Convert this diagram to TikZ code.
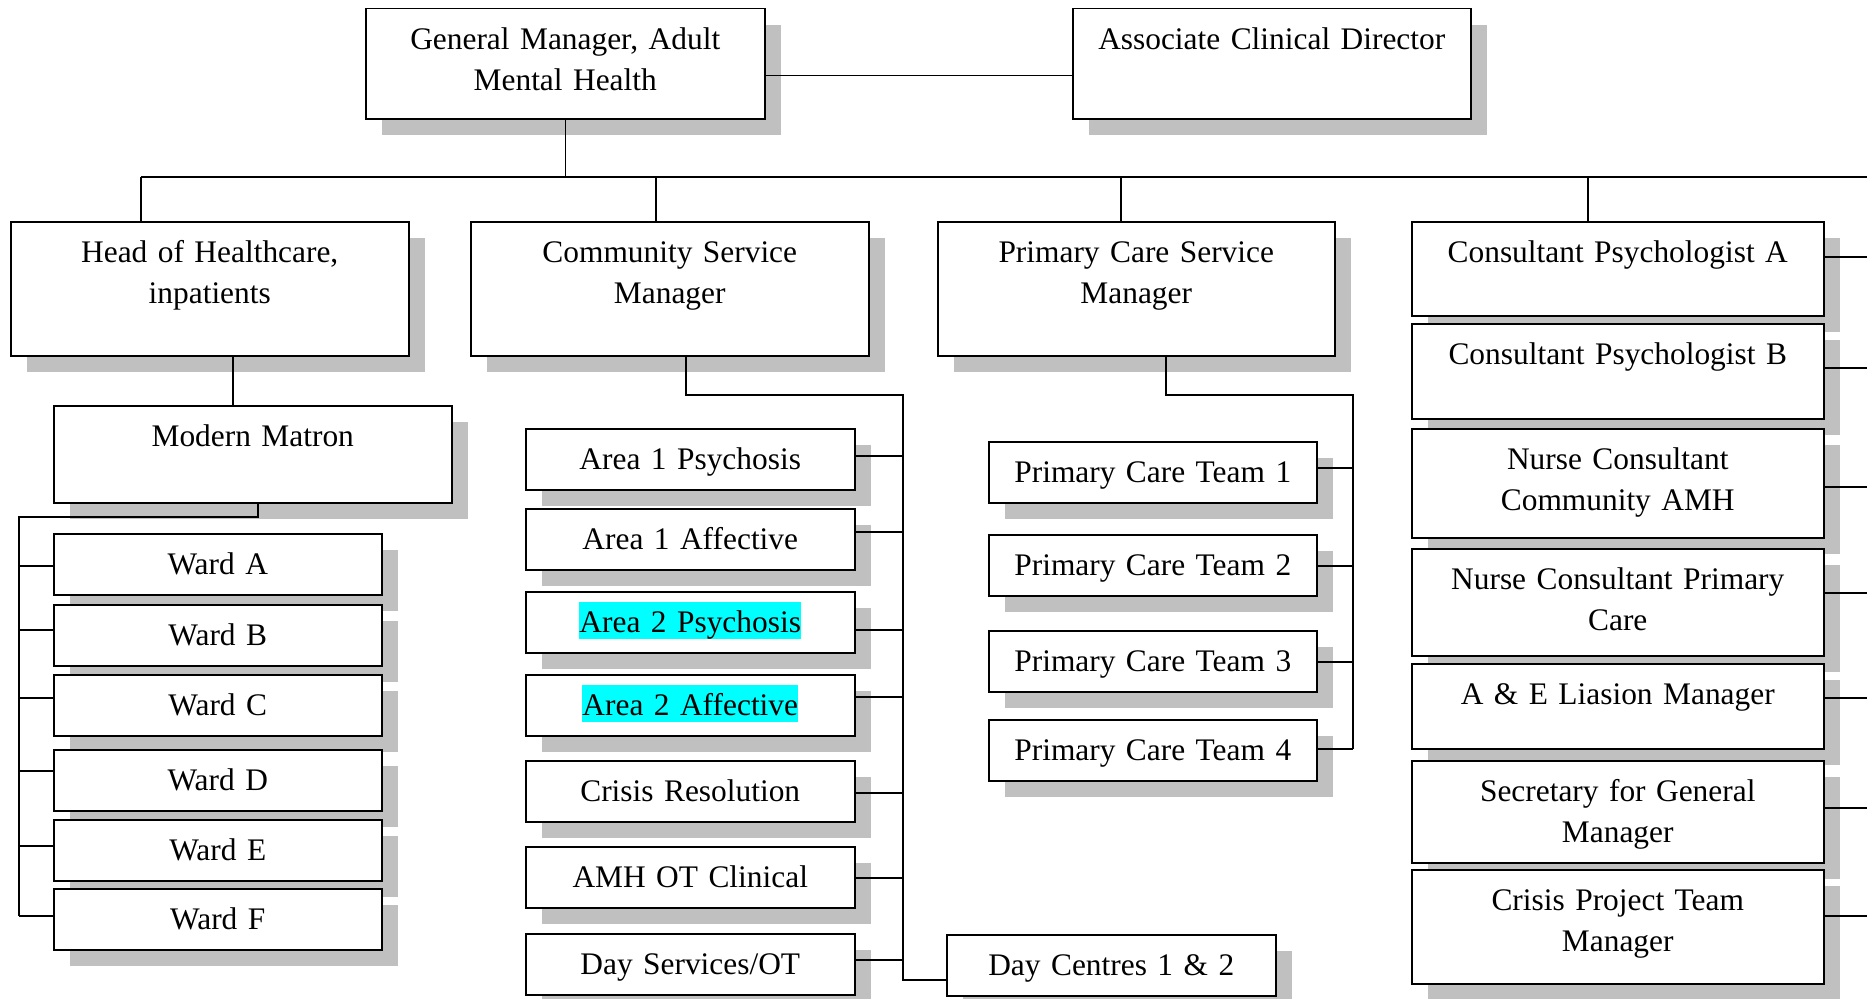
\documentclass[tikz,border=0pt]{standalone}
\usepackage{fontspec}
\setmainfont{Liberation Serif}
\usetikzlibrary{shadows}
\definecolor{shade}{RGB}{192,192,192}
\definecolor{hilite}{RGB}{0,255,255}
\newcommand{\hlt}[1]{{\setlength{\fboxsep}{0pt}\colorbox{hilite}{\rule[-7pt]{0pt}{37pt}#1}}}
\begin{document}
\begin{tikzpicture}[x=1pt, y=-1pt,
		font=\fontsize{31.4}{41.7}\selectfont,
		box/.style 2 args={draw, line width=1.5pt, fill=white, anchor=north west,
			inner sep=0pt, text width=#1, align=center,
			text height=40.5pt, text depth={#2-40.5pt},
			general shadow={fill=shade, shadow xshift=16pt, shadow yshift=-16pt}},
		link/.style={line width=1.3pt}]
	\useasboundingbox (0,0) rectangle (1867,998);
	% top row
	\node[box={399pt}{110pt}] (gm) at (365,8) {General Manager, Adult\\Mental Health};
	\node[box={398pt}{110pt}] (acd) at (1072,8) {Associate Clinical Director};
	% managers
	\node[box={398pt}{134pt}] (head) at (10,221) {Head of Healthcare,\\inpatients};
	\node[box={398pt}{134pt}] (csm) at (470,221) {Community Service\\Manager};
	\node[box={397pt}{134pt}] (pcsm) at (937,221) {Primary Care Service\\Manager};
	% right column
	\node[box={412pt}{94pt}] (cpa) at (1411,221) {Consultant Psychologist A};
	\node[box={412pt}{95pt}] (cpb) at (1411,323) {Consultant Psychologist B};
	\node[box={412pt}{109pt}] (ncc) at (1411,428) {Nurse Consultant\\Community AMH};
	\node[box={412pt}{107pt}] (ncp) at (1411,548) {Nurse Consultant Primary\\Care};
	\node[box={412pt}{85pt}] (ae) at (1411,663) {A \& E Liasion Manager};
	\node[box={412pt}{102pt}] (sec) at (1411,760) {Secretary for General\\Manager};
	\node[box={412pt}{114pt}] (cpt) at (1411,869) {Crisis Project Team\\Manager};
	% inpatients
	\node[box={398pt}{97pt}] (matron) at (53,405) {Modern Matron};
	\foreach \n/\y/\w in {wa/533/A, wb/604/B, wc/674/C, wd/749/D, we/819/E, wf/888/F}
		\node[box={328pt}{61pt}] (\n) at (53,\y) {Ward \w};
	% community
	\node[box={329pt}{61pt}] (a1p) at (525,428) {Area 1 Psychosis};
	\node[box={329pt}{61pt}] (a1a) at (525,508) {Area 1 Affective};
	\node[box={329pt}{61pt}] (a2p) at (525,591) {\hlt{Area 2 Psychosis}};
	\node[box={329pt}{61pt}] (a2a) at (525,674) {\hlt{Area 2 Affective}};
	\node[box={329pt}{61pt}] (cr) at (525,760) {Crisis Resolution};
	\node[box={329pt}{61pt}] (amh) at (525,846) {AMH OT Clinical};
	\node[box={329pt}{61pt}] (ds) at (525,933) {Day Services/OT};
	\node[box={329pt}{61pt}] (dc) at (946,934) {Day Centres 1 \& 2};
	% primary care
	\foreach \n/\y/\k in {pc1/441/1, pc2/534/2, pc3/630/3, pc4/719/4}
		\node[box={328pt}{61pt}] (\n) at (988,\y) {Primary Care Team \k};
	% connectors
	\draw[link] ([yshift=-12pt]gm.east) -- ([yshift=-12pt]acd.west);
	\coordinate (busL) at (141,177);
	\coordinate (busR) at (1867,177);
	\draw[link] (busL) -- (busR);
	\draw[link] (gm.south) -- (gm.south |- busL);
	\foreach \n/\x in {head/141, csm/656, pcsm/1121, cpa/1588}
		\draw[link] (busL -| \x,0) -- (\n.north -| \x,0);
	\foreach \n/\y in {cpa/257, cpb/368, ncc/487, ncp/593, ae/698, sec/808, cpt/916}
		\draw[link] (\n.east |- 0,\y) -- ++(44,0);
	\draw[link] (head.south -| 233,0) -- (matron.north -| 233,0);
	\coordinate (spine) at (19,517);
	\draw[link] (matron.south -| 258,0) |- (spine) -- (spine |- 0,916);
	\foreach \n/\y in {wa/566, wb/630, wc/698, wd/771, we/846, wf/916}
		\draw[link] (spine |- 0,\y) -- (\n.west |- 0,\y);
	\coordinate (trunk) at (903,395);
	\draw[link] (csm.south -| 686,0) |- (trunk) -- (trunk |- 0,980) -- (dc.west |- 0,980);
	\foreach \n/\y in {a1p/456, a1a/532, a2p/630, a2a/697, cr/793, amh/878, ds/960}
		\draw[link] (\n.east |- 0,\y) -- (trunk |- 0,\y);
	\coordinate (pctrunk) at (1353,395);
	\draw[link] (pcsm.south -| 1166,0) |- (pctrunk) -- (pctrunk |- 0,749);
	\foreach \n/\y in {pc1/468, pc2/566, pc3/662, pc4/749}
		\draw[link] (\n.east |- 0,\y) -- (pctrunk |- 0,\y);
\end{tikzpicture}
\end{document}
